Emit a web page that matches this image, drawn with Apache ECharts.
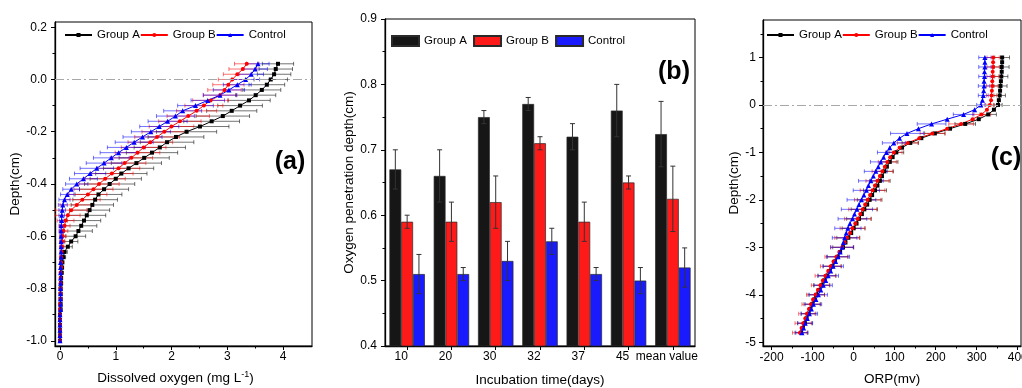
<!DOCTYPE html>
<html>
<head>
<meta charset="utf-8">
<script src="https://cdn.jsdelivr.net/npm/echarts@6/dist/echarts.min.js"></script>
<style>
html, body { margin: 0; padding: 0; background: #fff; }
#main { width: 1022px; height: 388px; }
</style>
</head>
<body>
<div id="main"></div>
<script>
// (a) dissolved oxygen profiles, depth step 0.02 cm
const doDepth = [0.06, 0.04, 0.02, 0, -0.02, -0.04, -0.06, -0.08, -0.1, -0.12,
  -0.14, -0.16, -0.18, -0.2, -0.22, -0.24, -0.26, -0.28, -0.3, -0.32,
  -0.34, -0.36, -0.38, -0.4, -0.42, -0.44, -0.46, -0.48, -0.5, -0.52,
  -0.54, -0.56, -0.58, -0.6, -0.62, -0.64, -0.66, -0.68, -0.7, -0.72,
  -0.74, -0.76, -0.78, -0.8, -0.82, -0.84, -0.86, -0.88, -0.9, -0.92,
  -0.94, -0.96, -0.98, -1.0]
const doA = [3.91, 3.87, 3.84, 3.78, 3.71, 3.62, 3.51, 3.39, 3.23, 3.08,
  2.92, 2.72, 2.51, 2.27, 2.08, 1.92, 1.79, 1.65, 1.51, 1.37,
  1.23, 1.10, 1.00, 0.89, 0.79, 0.69, 0.63, 0.58, 0.53, 0.48,
  0.43, 0.38, 0.33, 0.28, 0.20, 0.14, 0.08, 0.06, 0.04, 0.035,
  0.03, 0.02, 0.02, 0.01, 0.01, 0.01, 0.01, 0.01, 0, 0,
  0, 0, 0, 0]
const doB = [3.35, 3.28, 3.18, 3.09, 3.02, 2.95, 2.87, 2.70, 2.58, 2.45,
  2.30, 2.15, 2.00, 1.87, 1.74, 1.62, 1.50, 1.39, 1.28, 1.16,
  1.05, 0.93, 0.81, 0.70, 0.60, 0.50, 0.40, 0.30, 0.20, 0.14,
  0.10, 0.08, 0.06, 0.05, 0.04, 0.03, 0.03, 0.02, 0.02, 0.02,
  0.01, 0.01, 0.01, 0.01, 0.01, 0.01, 0, 0, 0, 0,
  0, 0, 0, 0]
const doC = [3.55, 3.50, 3.43, 3.33, 3.18, 3.03, 2.87, 2.65, 2.43, 2.20,
  2.07, 1.93, 1.78, 1.63, 1.48, 1.33, 1.19, 1.05, 0.92, 0.79,
  0.66, 0.54, 0.42, 0.30, 0.20, 0.13, 0.08, 0.05, 0.04, 0.03,
  0.03, 0.02, 0.02, 0.02, 0.02, 0.02, 0.02, 0.02, 0.01, 0.01,
  0.01, 0.01, 0.01, 0.01, 0.01, 0.01, 0.01, 0.01, 0, 0,
  0, 0, 0, 0]
const doErrA = [0.28, 0.30, 0.30, 0.30, 0.32, 0.34, 0.36, 0.38, 0.40, 0.45,
  0.48, 0.50, 0.52, 0.54, 0.50, 0.48, 0.46, 0.46, 0.45, 0.45,
  0.45, 0.46, 0.46, 0.45, 0.44, 0.42, 0.40, 0.38, 0.36, 0.34,
  0.30, 0.28, 0.25, 0.18, 0.12, 0.08, 0.05, 0.04, 0.03, 0.03,
  0.02, 0.02, 0.02, 0.02, 0.02, 0.02, 0.02, 0.02, 0.02, 0.02,
  0.02, 0.02, 0.02, 0.02]
const doErrB = [0.22, 0.25, 0.25, 0.25, 0.28, 0.30, 0.30, 0.32, 0.34, 0.36,
  0.38, 0.38, 0.40, 0.40, 0.40, 0.40, 0.40, 0.40, 0.38, 0.38,
  0.38, 0.38, 0.36, 0.36, 0.35, 0.34, 0.32, 0.30, 0.28, 0.22,
  0.15, 0.10, 0.08, 0.06, 0.05, 0.04, 0.03, 0.03, 0.02, 0.02,
  0.02, 0.02, 0.02, 0.02, 0.02, 0.02, 0.02, 0.02, 0.02, 0.02,
  0.02, 0.02, 0.02, 0.02]
const doErrC = [0.20, 0.22, 0.22, 0.25, 0.25, 0.28, 0.30, 0.30, 0.32, 0.34,
  0.34, 0.35, 0.35, 0.35, 0.35, 0.34, 0.34, 0.33, 0.32, 0.32,
  0.30, 0.28, 0.25, 0.20, 0.15, 0.12, 0.10, 0.08, 0.06, 0.05,
  0.04, 0.03, 0.03, 0.02, 0.02, 0.02, 0.02, 0.02, 0.02, 0.02,
  0.02, 0.02, 0.02, 0.02, 0.02, 0.02, 0.02, 0.02, 0.02, 0.02,
  0.02, 0.02, 0.02, 0.02]

// (b) oxygen penetration depth
const days = ['10', '20', '30', '32', '37', '45', 'mean value']
const penA = [0.67, 0.66, 0.75, 0.77, 0.72, 0.76, 0.724]
const penAErr = [0.03, 0.04, 0.01, 0.01, 0.02, 0.04, 0.05]
const penB = [0.59, 0.59, 0.62, 0.71, 0.59, 0.65, 0.625]
const penBErr = [0.01, 0.03, 0.04, 0.01, 0.03, 0.01, 0.05]
const penC = [0.51, 0.51, 0.53, 0.56, 0.51, 0.50, 0.52]
const penCErr = [0.03, 0.01, 0.03, 0.02, 0.01, 0.02, 0.03]

// (c) ORP profiles, depth step 0.1 cm
const orpDepth = [1.0, 0.9, 0.8, 0.7, 0.6, 0.5, 0.4, 0.3, 0.2, 0.1, 0,
  -0.1, -0.2, -0.3, -0.4, -0.5, -0.6, -0.7, -0.8, -0.9, -1.0,
  -1.1, -1.2, -1.3, -1.4, -1.5, -1.6, -1.7, -1.8, -1.9, -2.0,
  -2.1, -2.2, -2.3, -2.4, -2.5, -2.6, -2.7, -2.8, -2.9, -3.0,
  -3.1, -3.2, -3.3, -3.4, -3.5, -3.6, -3.7, -3.8, -3.9, -4.0,
  -4.1, -4.2, -4.3, -4.4, -4.5, -4.6, -4.7, -4.8]
const orpA = [362, 362, 361, 361, 360, 359, 358, 357, 356, 354, 352,
  342, 328, 305, 272, 235, 198, 165, 138, 118, 104,
  95, 88, 81, 75, 69, 64, 58, 52, 45, 39,
  33, 26, 20, 13, 7, 0, -6, -13, -20, -26,
  -33, -39, -46, -52, -59, -65, -72, -78, -85, -91,
  -96, -101, -106, -110, -115, -119, -124, -128]
const orpB = [340, 340, 340, 339, 339, 338, 338, 337, 336, 335, 332,
  325, 312, 290, 262, 228, 192, 160, 132, 112, 98,
  89, 82, 76, 70, 64, 58, 52, 46, 40, 34,
  28, 22, 16, 10, 4, -3, -9, -16, -22, -28,
  -35, -42, -49, -56, -62, -69, -75, -81, -87, -93,
  -99, -104, -109, -114, -118, -123, -127, -131]
const orpC = [320, 320, 320, 319, 319, 318, 318, 317, 316, 314, 310,
  295, 268, 228, 190, 158, 130, 112, 98, 88, 80,
  73, 66, 60, 54, 48, 42, 36, 31, 25, 19,
  13, 8, 2, -3, -9, -14, -18, -22, -25, -28,
  -33, -38, -44, -50, -56, -62, -68, -74, -80, -86,
  -92, -98, -103, -108, -113, -118, -122, -126]
// error bars only every 0.2 cm
const orpErrDepth = [1.0, 0.8, 0.6, 0.4, 0.2, 0, -0.2, -0.4, -0.6, -0.8,
  -1.0, -1.2, -1.4, -1.6, -1.8, -2.0, -2.2, -2.4, -2.6, -2.8,
  -3.0, -3.2, -3.4, -3.6, -3.8, -4.0, -4.2, -4.4, -4.6, -4.8]
const orpErrA = [18, 18, 16, 16, 14, 10, 20, 25, 25, 20, 18, 20, 22, 25, 28, 30, 32, 30, 28, 28, 25, 25, 22, 22, 20, 20, 20, 18, 18, 15]
const orpErrB = [15, 15, 14, 14, 12, 10, 22, 30, 30, 25, 20, 22, 25, 28, 30, 32, 34, 32, 30, 30, 28, 28, 25, 25, 22, 22, 22, 20, 20, 18]
const orpErrC = [15, 15, 14, 14, 12, 10, 25, 35, 40, 28, 22, 25, 28, 30, 32, 35, 38, 35, 32, 30, 28, 28, 25, 25, 22, 22, 20, 20, 18, 15]

// tick positions
const aXTicks = [0, 1, 2, 3, 4]
const aXMinor = [0.5, 1.5, 2.5, 3.5]
const aYTicks = [-1, -0.8, -0.6, -0.4, -0.2, 0, 0.2]
const aYMinor = [-0.9, -0.7, -0.5, -0.3, -0.1, 0.1]
const cXTicks = [-200, -100, 0, 100, 200, 300, 400]
const cXMinor = [-150, -50, 50, 150, 250, 350]
const cYTicks = [-5, -4, -3, -2, -1, 0, 1]
const cYMinor = [-4.5, -3.5, -2.5, -1.5, -0.5, 0.5, 1.5]

const FONT = 'Liberation Sans, Arial, sans-serif'
const BLACK = '#000000', RED = '#ff0000', BLUE = '#0000ff'

let chart = echarts.init(document.getElementById('main'), null, { renderer: 'canvas' })

function valueAxis(grid, pos, min, max, ticks, fmt, name, nameGap, margin) {
    return {
        type: 'value', gridIndex: grid, position: pos, min: min, max: max,
        name: name, nameLocation: 'middle', nameGap: nameGap,
        nameTextStyle: { fontSize: 13.5, color: '#000', fontFamily: FONT },
        axisLine: { show: true, onZero: false, lineStyle: { color: '#000', width: 1.3 } },
        axisTick: { show: true, length: 4, customValues: ticks, lineStyle: { color: '#000', width: 1 } },
        axisLabel: { show: true, customValues: ticks, formatter: fmt, margin: margin, fontSize: 12, color: '#000', fontFamily: FONT },
        splitLine: { show: false }
    }
}
function minorAxis(grid, pos, min, max, ticks) {
    return {
        type: 'value', gridIndex: grid, position: pos, min: min, max: max,
        axisLine: { show: false, onZero: false },
        axisTick: { show: true, length: 2.5, customValues: ticks, lineStyle: { color: '#000', width: 1 } },
        axisLabel: { show: false },
        splitLine: { show: false }
    }
}

function lineSeries(name, xs, ys, color, symbol, size, xi, yi) {
    return {
        type: 'line', name: name, xAxisIndex: xi, yAxisIndex: yi,
        data: xs.map((x, i) => [x, ys[i]]),
        symbol: symbol, symbolSize: size, showSymbol: true, showAllSymbol: true,
        lineStyle: { color: color, width: 1 }, itemStyle: { color: color },
        z: 3, silent: true
    }
}

// horizontal error bars
function hErrSeries(xs, ys, errs, color, xi, yi) {
    return {
        type: 'custom', xAxisIndex: xi, yAxisIndex: yi, clip: true, silent: true, z: 2,
        data: xs.map((x, i) => [x, ys[i], errs[i]]),
        encode: { x: 0, y: 1 },
        renderItem: function (params, api) {
            const x = api.value(0), y = api.value(1), e = api.value(2)
            const l = api.coord([x - e, y]), r = api.coord([x + e, y])
            const st = { stroke: color, lineWidth: 1, opacity: 0.55 }
            return {
                type: 'group', children: [
                    { type: 'line', shape: { x1: l[0], y1: l[1], x2: r[0], y2: r[1] }, style: st },
                    { type: 'line', shape: { x1: l[0], y1: l[1] - 2, x2: l[0], y2: l[1] + 2 }, style: st },
                    { type: 'line', shape: { x1: r[0], y1: r[1] - 2, x2: r[0], y2: r[1] + 2 }, style: st }
                ]
            }
        }
    }
}

// centres of the (c) error bars, taken from the profile at the same depth
function orpErrData(vals) {
    return orpErrDepth.map(d => {
        let k = orpDepth.findIndex(v => Math.abs(v - d) < 1e-6)
        return vals[k]
    })
}

// vertical error bars on grouped bars, k = position inside the group
function vErrSeries(vals, errs, k) {
    return {
        type: 'custom', xAxisIndex: 2, yAxisIndex: 2, silent: true, z: 4,
        data: vals.map((v, i) => [i, v, errs[i]]),
        encode: { x: 0, y: 1 },
        renderItem: function (params, api) {
            const i = api.value(0), v = api.value(1), e = api.value(2)
            const band = api.size([1, 0])[0]
            const bw = band * 0.8 / 3
            const cx = api.coord([i, v])[0] + (k - 1) * bw
            const yt = api.coord([i, v + e])[1], yb = api.coord([i, v - e])[1]
            const st = { stroke: '#333', lineWidth: 1 }
            return {
                type: 'group', children: [
                    { type: 'line', shape: { x1: cx, y1: yt, x2: cx, y2: yb }, style: st },
                    { type: 'line', shape: { x1: cx - 2.5, y1: yt, x2: cx + 2.5, y2: yt }, style: st },
                    { type: 'line', shape: { x1: cx - 2.5, y1: yb, x2: cx + 2.5, y2: yb }, style: st }
                ]
            }
        }
    }
}

function barSeries(name, vals, color) {
    return {
        type: 'bar', name: name, xAxisIndex: 2, yAxisIndex: 2, data: vals,
        barGap: '0%', barCategoryGap: '20%', silent: true,
        itemStyle: { color: color, borderColor: '#2a2a2a', borderWidth: 0.7 }
    }
}

const zeroLine = {
    silent: true, symbol: 'none', label: { show: false }, animation: false,
    lineStyle: { color: '#a8a8a8', width: 1, type: [9, 3, 2, 3] },
    data: [{ yAxis: 0 }]
}

const lineLegendText = { fontSize: 11.5, color: '#000', fontFamily: FONT }

let sA = lineSeries('Group A', doA, doDepth, BLACK, 'rect', 4, 0, 0)
sA.markLine = zeroLine
let sCA = lineSeries('Group A', orpA, orpDepth, BLACK, 'rect', 4, 3, 3)
sCA.markLine = zeroLine

const gridBase = { show: true, borderColor: '#000', borderWidth: 1, backgroundColor: 'transparent', outerBoundsMode: 'none', containLabel: false }

let option = {
    animation: false,
    textStyle: { fontFamily: FONT },
    grid: [
        Object.assign({ left: 55, top: 22, width: 257, height: 324 }, gridBase),
        Object.assign({ left: 385, top: 19, width: 310, height: 327 }, gridBase),
        Object.assign({ left: 763, top: 20, width: 258, height: 326 }, gridBase)
    ],
    xAxis: [
        Object.assign(valueAxis(0, 'bottom', -0.09, 4.52, aXTicks, v => String(v), 'Dissolved oxygen (mg L{sup|-1})', 24, 5), {
            nameTextStyle: { fontSize: 13.5, color: '#000', fontFamily: FONT, padding: [0, 16, 0, 0], lineHeight: 16,
                rich: { sup: { fontSize: 9, color: '#000', fontFamily: FONT, verticalAlign: 'top', lineHeight: 16 } } }
        }),
        minorAxis(0, 'bottom', -0.09, 4.52, aXMinor),
        {
            type: 'category', gridIndex: 1, position: 'bottom', data: days,
            name: 'Incubation time(days)', nameLocation: 'middle', nameGap: 27,
            nameTextStyle: { fontSize: 13.5, color: '#000', fontFamily: FONT },
            axisLine: { show: true, onZero: false, lineStyle: { color: '#000', width: 1.3 } },
            axisTick: { show: true, alignWithLabel: true, length: 4, lineStyle: { color: '#000' } },
            axisLabel: { interval: 0, margin: 5, fontSize: 12, color: '#000', fontFamily: FONT, padding: [0, 12, 0, 0] }
        },
        valueAxis(2, 'bottom', -221, 408, cXTicks, v => String(v), 'ORP(mv)', 26, 6),
        minorAxis(2, 'bottom', -221, 408, cXMinor)
    ],
    yAxis: [
        valueAxis(0, 'left', -1.02, 0.22, aYTicks, v => v.toFixed(1), 'Depth(cm)', 30, 8),
        minorAxis(0, 'left', -1.02, 0.22, aYMinor),
        {
            type: 'value', gridIndex: 1, position: 'left', min: 0.4, max: 0.9, interval: 0.1,
            name: 'Oxygen penetration depth(cm)', nameLocation: 'middle', nameGap: 29,
            nameTextStyle: { fontSize: 13.5, color: '#000', fontFamily: FONT },
            axisLine: { show: true, onZero: false, lineStyle: { color: '#000', width: 1.3 } },
            axisTick: { show: true, length: 4, lineStyle: { color: '#000' } },
            minorTick: { show: true, splitNumber: 2, length: 2.5, lineStyle: { color: '#000' } },
            axisLabel: { formatter: v => v.toFixed(1), margin: 8, fontSize: 12, color: '#000', fontFamily: FONT },
            splitLine: { show: false }
        },
        valueAxis(2, 'left', -5.08, 1.79, cYTicks, v => String(v), 'Depth(cm)', 20, 7),
        minorAxis(2, 'left', -5.08, 1.79, cYMinor)
    ],
    legend: [
        {
            left: 64, top: 29, padding: 0, orient: 'horizontal', itemWidth: 27, itemHeight: 5, itemGap: 0,
            selectedMode: false, textStyle: lineLegendText,
            data: ['Group A', 'Group B', 'Control']
        },
        {
            left: 391, top: 35, padding: 0, orient: 'horizontal', itemWidth: 27, itemHeight: 10, itemGap: 3,
            selectedMode: false, textStyle: lineLegendText,
            data: [{ name: 'Group A ', icon: 'rect' }, { name: 'Group B ', icon: 'rect' }, { name: 'Control ', icon: 'rect' }]
        },
        {
            left: 766, top: 29, padding: 0, orient: 'horizontal', itemWidth: 27, itemHeight: 5, itemGap: 0,
            selectedMode: false, textStyle: lineLegendText,
            data: ['Group A', 'Group B', 'Control']
        }
    ],
    graphic: [
        { type: 'text', style: { x: 290, y: 162, text: '(a)', font: 'bold 25px ' + FONT, align: 'center', verticalAlign: 'middle', fill: '#000' } },
        { type: 'text', style: { x: 674, y: 72, text: '(b)', font: 'bold 25px ' + FONT, align: 'center', verticalAlign: 'middle', fill: '#000' } },
        { type: 'text', style: { x: 1006, y: 158, text: '(c)', font: 'bold 25px ' + FONT, align: 'center', verticalAlign: 'middle', fill: '#000' } }
    ],
    series: [
        // (a)
        hErrSeries(doA, doDepth, doErrA, BLACK, 0, 0),
        hErrSeries(doB, doDepth, doErrB, RED, 0, 0),
        hErrSeries(doC, doDepth, doErrC, BLUE, 0, 0),
        sA,
        lineSeries('Group B', doB, doDepth, RED, 'circle', 4, 0, 0),
        lineSeries('Control', doC, doDepth, BLUE, 'triangle', 5, 0, 0),
        // (b)
        barSeries('Group A ', penA, '#161616'),
        barSeries('Group B ', penB, '#ff1a1a'),
        barSeries('Control ', penC, '#1a1aff'),
        vErrSeries(penA, penAErr, 0),
        vErrSeries(penB, penBErr, 1),
        vErrSeries(penC, penCErr, 2),
        // (c)
        hErrSeries(orpErrData(orpA), orpErrDepth, orpErrA, BLACK, 3, 3),
        hErrSeries(orpErrData(orpB), orpErrDepth, orpErrB, RED, 3, 3),
        hErrSeries(orpErrData(orpC), orpErrDepth, orpErrC, BLUE, 3, 3),
        sCA,
        lineSeries('Group B', orpB, orpDepth, RED, 'circle', 4, 3, 3),
        lineSeries('Control', orpC, orpDepth, BLUE, 'triangle', 5, 3, 3)
    ]
}

chart.setOption(option)
</script>
</body>
</html>
